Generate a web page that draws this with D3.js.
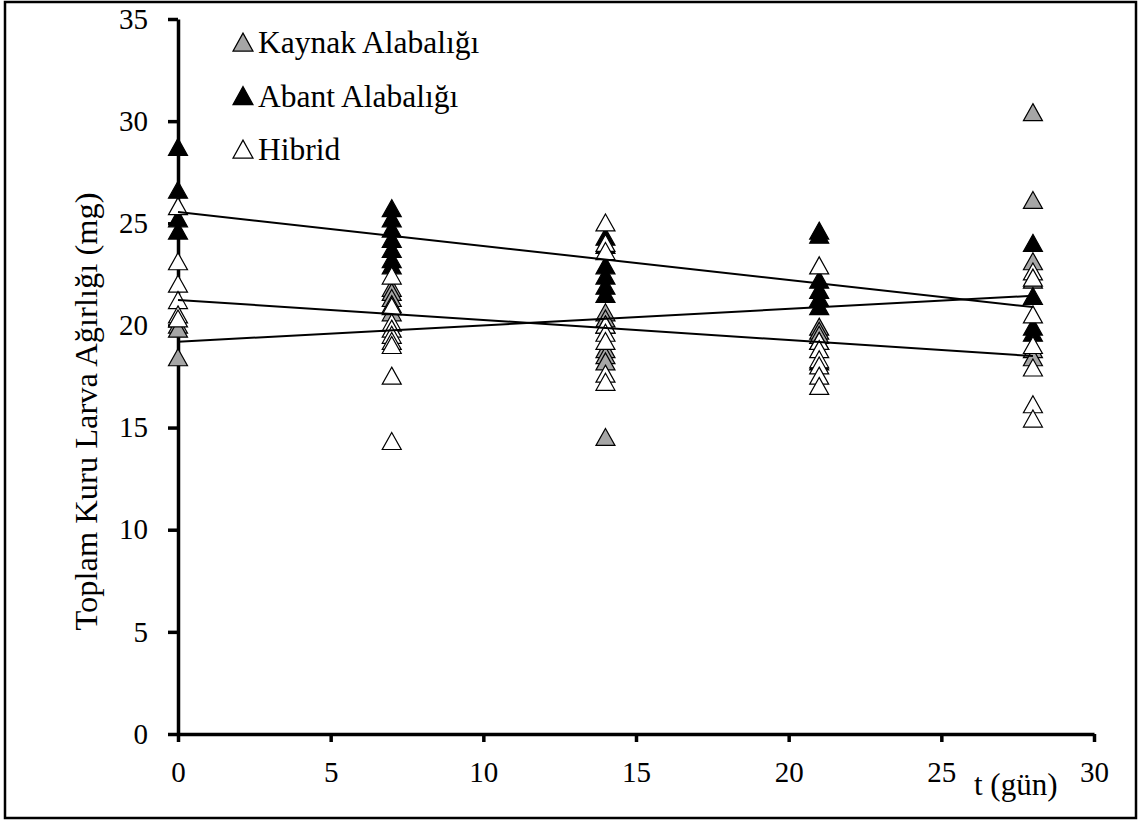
<!DOCTYPE html>
<html>
<head>
<meta charset="utf-8">
<script src="https://cdn.jsdelivr.net/npm/d3@7"></script>
<style>
  html, body { margin: 0; padding: 0; background: #fff; }
  svg { display: block; }
  text { font-family: "Liberation Serif", "Times New Roman", serif; fill: #000; }
</style>
</head>
<body>
<svg id="chart" width="1141" height="825"></svg>
<script>
// Sampling days
const days = [0, 7, 14, 21, 28];

// Total dry larval weight (mg) per day, one list per group
const kaynakValues = [
  [20.0, 19.8, 18.4],
  [21.8, 21.6, 21.3, 21.0, 20.6],
  [20.6, 20.3, 18.8, 18.5, 18.2, 14.5],
  [19.9, 19.7, 19.5, 19.2],
  [30.4, 26.1, 23.1, 22.2, 18.8, 18.4]
];
const abantValues = [
  [28.7, 26.6, 25.2, 24.6],
  [25.7, 25.2, 24.7, 24.2, 23.7, 23.2, 22.9],
  [24.3, 23.9, 22.9, 22.4, 21.9, 21.5, 20.0],
  [24.6, 24.4, 22.2, 21.7, 21.3, 20.9, 18.2],
  [24.0, 21.4, 19.9, 19.6]
];
const hibridValues = [
  [25.8, 23.1, 22.0, 21.2, 20.5, 20.3],
  [22.4, 20.9, 20.1, 19.8, 19.5, 19.2, 19.0, 17.5, 14.3],
  [25.0, 24.0, 23.6, 20.0, 19.6, 19.2, 17.6, 17.2],
  [22.9, 19.2, 18.8, 18.3, 18.0, 17.5, 17.0],
  [22.6, 22.3, 20.5, 19.0, 17.9, 16.1, 15.4]
];

// Linear trend lines: value at day 0 and at day 28
const trendDays = [0, 28];
const kaynakTrend = [19.2, 21.45];
const abantTrend = [25.55, 20.9];
const hibridTrend = [21.25, 18.5];

const seriesNames = ["Kaynak Alabalığı", "Abant Alabalığı", "Hibrid"];
const seriesFills = ["#a6a6a6", "#000000", "#ffffff"];

const xTicks = [0, 5, 10, 15, 20, 25, 30];
const yTicks = [0, 5, 10, 15, 20, 25, 30, 35];

const svg = d3.select("#chart");

// Outer frame
svg.append("rect")
  .attr("x", 5).attr("y", 2)
  .attr("width", 1131).attr("height", 816)
  .attr("fill", "none").attr("stroke", "#000").attr("stroke-width", 2.5);

const x = d3.scaleLinear().domain([0, 30]).range([178, 1094]);
const y = d3.scaleLinear().domain([0, 35]).range([734, 19]);

// Axes
const xAxis = svg.append("g")
  .attr("transform", `translate(0,${y(0)})`)
  .call(d3.axisBottom(x).tickValues(xTicks).tickSizeInner(8).tickSizeOuter(0).tickPadding(19));
const yAxis = svg.append("g")
  .attr("transform", `translate(${x(0)},0)`)
  .call(d3.axisLeft(y).tickValues(yTicks).tickSizeInner(10).tickSizeOuter(0).tickPadding(20));

[xAxis, yAxis].forEach(g => {
  g.select(".domain").attr("stroke", "#000").attr("stroke-width", 3.5);
  g.selectAll(".tick line").attr("stroke", "#000").attr("stroke-width", 3.5);
  g.selectAll(".tick text")
    .style("font-family", '"Liberation Serif", "Times New Roman", serif')
    .style("font-size", "29px")
    .attr("fill", "#000");
});
xAxis.selectAll(".tick text").attr("dy", "0.71em");

// Axis titles
svg.append("text")
  .attr("transform", `translate(97,${(190 + 633) / 2}) rotate(-90)`)
  .attr("text-anchor", "middle")
  .style("font-size", "32.5px")
  .text("Toplam Kuru Larva Ağırlığı (mg)");

svg.append("text")
  .attr("x", 974).attr("y", 795)
  .style("font-size", "31px")
  .text("t (gün)");

// Triangle marker
const tri = (w, h) => `M0,${-h * 0.55}L${w / 2},${h * 0.45}L${-w / 2},${h * 0.45}Z`;
const markerPath = tri(19, 17);

const groups = [kaynakValues, abantValues, hibridValues];
const trends = [kaynakTrend, abantTrend, hibridTrend];

groups.forEach((vals, si) => {
  const pts = [];
  vals.forEach((list, di) => list.forEach(v => pts.push({ d: days[di], v })));
  svg.append("g").selectAll("path")
    .data(pts)
    .join("path")
    .attr("d", markerPath)
    .attr("transform", p => `translate(${x(p.d)},${y(p.v)})`)
    .attr("fill", seriesFills[si])
    .attr("stroke", "#000")
    .attr("stroke-width", 1.2);
});

// Trend lines
const line = d3.line().x(d => x(d[0])).y(d => y(d[1]));
trends.forEach(t => {
  svg.append("path")
    .attr("d", line(trendDays.map((d, i) => [d, t[i]])))
    .attr("fill", "none")
    .attr("stroke", "#000")
    .attr("stroke-width", 2);
});

// Legend
const legend = svg.append("g");
seriesNames.forEach((name, i) => {
  const cy = 43 + i * 53.5;
  legend.append("path")
    .attr("d", tri(20, 18))
    .attr("transform", `translate(243,${cy})`)
    .attr("fill", seriesFills[i])
    .attr("stroke", "#000")
    .attr("stroke-width", 1.2);
  legend.append("text")
    .attr("x", 258).attr("y", cy + 10)
    .style("font-size", "31.5px")
    .text(name);
});
</script>
</body>
</html>
